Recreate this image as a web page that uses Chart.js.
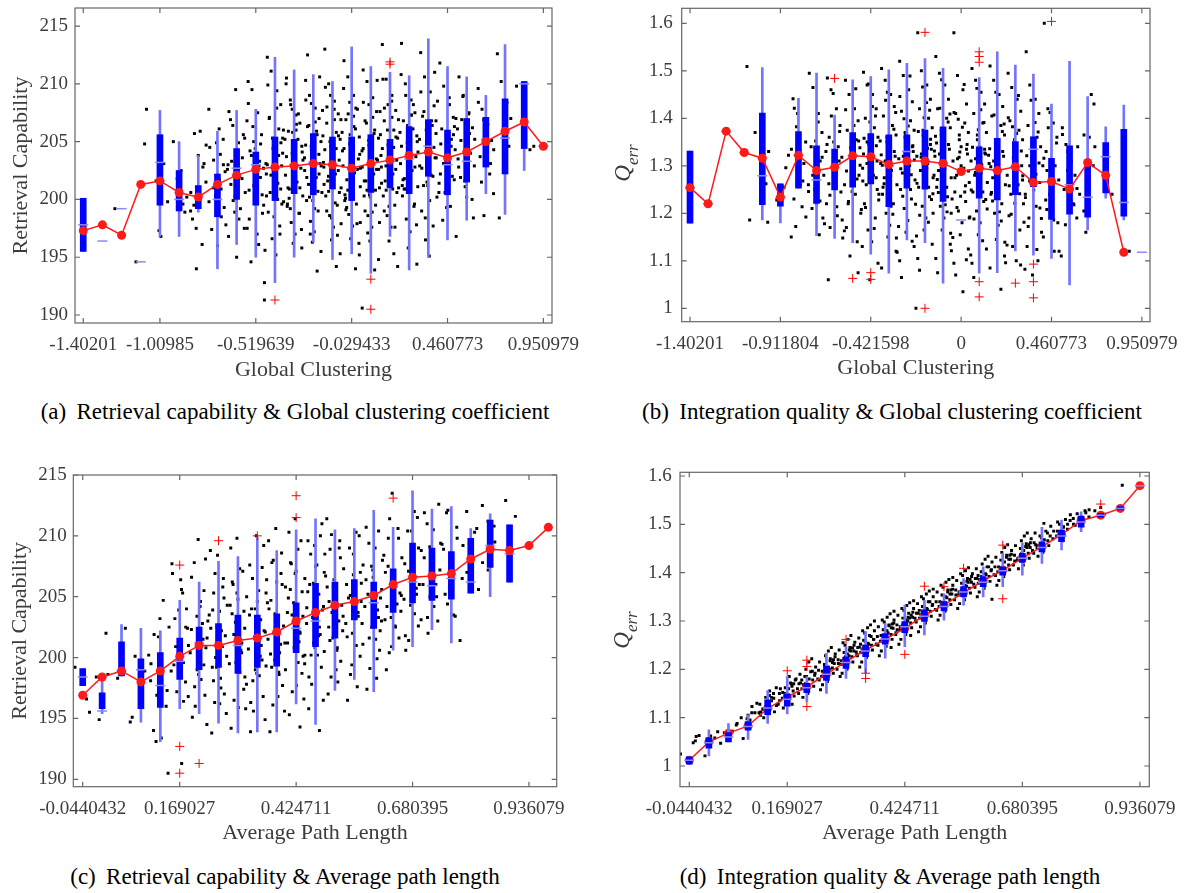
<!DOCTYPE html>
<html><head><meta charset="utf-8">
<script src="https://cdn.jsdelivr.net/npm/chart.js@4.4.1/dist/chart.umd.min.js"></script>
<style>
html,body{margin:0;padding:0;background:#fff;}
#wrap{position:relative;width:1187px;height:893px;overflow:hidden;background:#fff;}
canvas{position:absolute;}
.cap{position:absolute;font-family:"Liberation Serif","Times New Roman",serif;font-size:23px;color:#000;white-space:nowrap;transform:translate(-50%,-50%);}
.cap span{margin-right:0.45em;}
</style></head><body>
<div id="wrap">
<canvas id="ca" width="590" height="390" style="left:0px;top:0px"></canvas>
<canvas id="cb" width="594" height="390" style="left:593px;top:0px"></canvas>
<canvas id="cc" width="590" height="415" style="left:0px;top:440px"></canvas>
<canvas id="cd" width="594" height="415" style="left:593px;top:440px"></canvas>
<div class="cap" style="left:295px;top:412px"><span>(a)</span>Retrieval capability &amp; Global clustering coefficient</div>
<div class="cap" style="left:892px;top:412px"><span>(b)</span>Integration quality &amp; Global clustering coefficient</div>
<div class="cap" style="left:285px;top:877px"><span>(c)</span>Retrieval capability &amp; Average path length</div>
<div class="cap" style="left:890px;top:877px"><span>(d)</span>Integration quality &amp; Average path length</div>
</div>
<script>
// ---------------- Panel (a): Retrieval capability vs Global clustering ----------------
const xTicksA = [0, 4, 9, 14, 19, 24];
const xLabelsA = ['-1.40201', '-1.00985', '-0.519639', '-0.029433', '0.460773', '0.950979'];
const yTicksA = [190, 195, 200, 205, 210, 215];
const yLabelsA = ['190', '195', '200', '205', '210', '215'];
const q3A = [200.1, null, null, null, 205.6, 202.5, 201.2, 202.2, 204.4, 204.1, 205.4, 205.2, 205.7, 205.4, 205.4, 205.6, 205.2, 206.3, 206.9, 206.0, 207.0, 207.1, 208.7, 210.2, null];
const q1A = [195.5, null, null, null, 199.5, 199.0, 199.2, 198.5, 200.0, 199.5, 199.9, 200.5, 200.4, 200.9, 199.9, 200.6, 201.0, 200.5, 202.0, 200.4, 201.5, 202.8, 202.2, 204.4, null];
const hiA = [200.1, null, null, null, 207.7, 205.0, 203.8, 205.9, 207.7, 207.8, 212.3, 211.2, 210.8, 210.2, 213.2, 211.5, 211.0, 210.7, 213.9, 211.5, 210.6, 209.0, 213.4, 210.2, null];
const loA = [195.5, null, null, null, 196.8, 196.8, 198.9, 194.0, 196.1, 195.0, 192.8, 195.0, 196.3, 194.8, 195.3, 193.6, 196.8, 193.9, 195.0, 196.5, 198.2, 200.5, 198.7, 202.5, null];
const medA = [197.8, 196.4, 199.2, 194.6, 203.2, 200.0, 200.3, 200.0, 202.7, 203.0, 202.7, 203.0, 203.2, 203.0, 202.6, 203.0, 203.3, 203.5, 204.6, 203.0, 203.3, 205.2, 205.3, 210.0, 204.6];
const meanA = [197.3, 197.8, 196.9, 201.3, 201.6, 200.6, 200.2, 201.3, 202.1, 202.6, 202.8, 202.9, 203.1, 203.0, 202.7, 203.1, 203.4, 203.8, 204.1, 203.6, 204.1, 205.0, 205.9, 206.7, 204.6];
const outA = [[10,191.3],[15,193.1],[15,190.5],[16,211.9],[16,211.7]];
const dotsA = [[1.65,199.2],[2.75,194.6],[3.3,207.8],[3.2,204.8],
[3.95,197.3],[4.05,196.8],[4.2,203.1],[4.4,199.8],[3.8,201.6],
[4.7,205.0],[5.2,199.6],[5.4,200.2],[4.9,201.8],[5.3,198.9],[5.1,202.5],
[5.6,199.0],[5.8,205.7],[6.1,205.9],[6.3,203.1],[5.7,198.3],[6.2,196.1],[6.4,201.5],[5.9,194.0],[6.0,203.8],
[6.6,204.5],[6.8,203.4],[7.1,201.7],[7.3,205.2],[6.7,197.4],[7.2,198.5],[7.4,202.4],[6.9,200.3],[7.0,196.0],[7.35,199.3],[6.55,207.8],[7.15,203.9],
[7.6,207.6],[7.8,206.4],[8.1,204.9],[8.3,203.6],[7.7,201.3],[8.2,199.2],[8.4,197.5],[7.9,198.9],[8.0,195.0],[8.35,205.6],[7.55,203.0],[8.15,202.0],[7.95,209.5],[8.45,200.6],
[8.6,210.2],[8.8,209.5],[9.1,207.5],[9.3,205.6],[8.7,204.2],[9.2,203.3],[9.4,202.7],[8.9,201.2],[9.0,199.9],[9.35,198.8],[8.55,197.5],[9.15,196.1],[8.75,194.6],[9.45,192.8],[8.65,200.8],[9.25,204.8],[8.85,206.3],[9.05,202.2],
[9.6,212.3],[9.8,211.1],[10.1,209.4],[10.3,208.2],[9.7,207.0],[10.2,206.1],[10.4,205.3],[9.9,204.4],[10.0,203.6],[10.35,202.9],[9.55,202.2],[10.15,201.4],[9.75,200.6],[10.45,199.8],[9.65,198.9],[10.25,197.7],[9.85,196.6],[10.05,195.2],[9.45,191.3],[10.4,204.0],[9.6,203.0],[10.3,200.9],
[10.6,210.5],[10.8,208.6],[11.1,207.3],[11.3,206.6],[10.7,205.9],[11.2,205.2],[11.4,204.6],[10.9,204.0],[11.0,203.3],[11.35,202.7],[10.55,202.1],[11.15,201.5],[10.75,200.9],[11.45,200.3],[10.65,199.6],[11.25,198.8],[10.85,198.0],[11.05,197.0],[10.95,196.2],[11.4,195.8],[10.6,203.7],[11.3,201.0],[10.8,199.2],[11.1,206.0],[10.9,207.8],
[11.6,210.3],[11.8,209.0],[12.1,207.9],[12.3,207.0],[11.7,206.3],[12.2,205.6],[12.4,205.0],[11.9,204.3],[12.0,203.7],[12.35,203.1],[11.55,202.5],[12.15,201.9],[11.75,201.3],[12.45,200.6],[11.65,199.9],[12.25,199.0],[11.85,198.1],[12.05,197.2],[11.95,196.3],[12.4,195.5],[11.6,204.7],[12.3,202.2],[11.8,200.2],[12.1,206.7],[11.9,208.3],[12.2,193.8],[11.7,212.5],[12.0,201.0],
[12.6,213.0],[12.8,210.0],[13.1,208.5],[13.3,207.4],[12.7,206.6],[13.2,205.8],[13.4,205.2],[12.9,204.6],[13.0,204.0],[13.35,203.4],[12.55,202.8],[13.15,202.2],[12.75,201.6],[13.45,201.0],[12.65,200.3],[13.25,199.5],[12.85,198.6],[13.05,197.6],[12.95,196.5],[13.4,195.3],[12.6,204.3],[13.3,202.5],[12.8,200.7],[13.1,206.9],[12.9,209.0],[13.2,194.2],[12.7,199.0],[13.0,203.0],[12.5,205.5],[13.45,197.9],
[13.6,212.0],[13.8,210.6],[14.1,209.0],[14.3,207.8],[13.7,206.9],[14.2,206.1],[14.4,205.4],[13.9,204.8],[14.0,204.1],[14.35,203.5],[13.55,202.9],[14.15,202.3],[13.75,201.7],[14.45,201.1],[13.65,200.4],[14.25,199.6],[13.85,198.7],[14.05,197.7],[13.95,196.6],[14.4,195.2],[13.6,204.4],[14.3,202.6],[13.8,200.8],[14.1,207.2],[13.9,208.4],[14.2,194.0],[13.7,199.1],[14.0,203.0],[13.5,205.8],[14.45,198.0],
[14.6,211.2],[14.8,210.2],[15.1,208.8],[15.3,207.6],[14.7,206.8],[15.2,206.0],[15.4,205.3],[14.9,204.7],[15.0,204.0],[15.35,203.4],[14.55,202.8],[15.15,202.2],[14.75,201.6],[15.45,201.0],[14.65,200.3],[15.25,199.5],[14.85,198.6],[15.05,197.6],[14.95,196.4],[15.4,194.8],[14.6,204.4],[15.3,202.6],[14.8,200.8],[15.1,207.1],[14.9,208.2],[15.2,193.9],[14.7,199.0],[14.55,190.6],[15.5,205.6],[15.45,198.0],
[15.6,213.4],[15.8,210.4],[16.1,209.0],[16.3,207.7],[15.7,206.8],[16.2,206.0],[16.4,205.3],[15.9,204.7],[16.0,204.0],[16.35,203.4],[15.55,202.8],[16.15,202.2],[15.75,201.6],[16.45,201.0],[15.65,200.3],[16.25,199.5],[15.85,198.6],[16.05,197.6],[15.95,196.4],[16.4,194.2],[15.6,204.4],[16.3,202.6],[15.8,200.8],[16.1,207.1],[15.9,208.2],[16.2,195.3],[15.7,199.0],[16.0,203.0],
[16.6,213.5],[16.8,210.0],[17.1,208.6],[17.3,207.5],[16.7,206.8],[17.2,206.1],[17.4,205.5],[16.9,204.9],[17.0,204.3],[17.35,203.7],[16.55,203.1],[17.15,202.5],[16.75,201.8],[17.45,201.1],[16.65,200.3],[17.25,199.4],[16.85,198.3],[17.05,197.2],[16.95,195.8],[17.4,194.4],[16.6,204.6],[17.3,202.8],[16.8,200.9],[17.1,207.3],
[17.6,212.7],[17.8,210.6],[18.1,209.3],[18.3,208.1],[17.7,207.2],[18.2,206.4],[18.4,205.7],[17.9,205.0],[18.0,204.3],[18.35,203.6],[17.55,202.9],[18.15,202.1],[17.75,201.2],[18.45,200.2],[17.65,199.0],[18.25,197.7],[17.85,196.5],[18.05,195.1],[17.95,203.3],[18.4,206.8],
[18.6,211.8],[18.8,209.8],[19.1,208.2],[19.3,207.1],[18.7,206.1],[19.2,205.2],[19.4,204.3],[18.9,203.5],[19.0,202.6],[19.35,201.7],[18.55,200.6],[19.15,199.4],[18.75,198.2],[19.45,196.8],[18.65,204.8],[19.25,202.0],
[19.6,210.6],[19.8,208.9],[20.1,207.4],[20.3,206.2],[19.7,205.1],[20.2,204.0],[20.4,202.9],[19.9,201.6],[20.0,200.2],[20.35,198.4],[19.55,203.5],[20.15,205.7],
[20.6,209.6],[20.8,207.8],[21.1,206.5],[21.3,205.1],[20.7,203.7],[21.2,202.2],[21.4,200.5],[20.9,198.6],
[21.6,212.6],[21.8,210.2],[22.1,208.4],[22.3,207.0],[21.7,198.4],[22.2,204.6],
[22.6,209.8],[23.3,204.3],[23.5,204.6],[24.0,204.8]];
const dotsAmore = [[5.89,197.5],[6.24,202.8],[5.61,200.6],[6.41,204.7],[5.77,199.5],
[7.31,203.0],[6.56,199.8],[7.09,206.1],[6.79,201.0],[7.44,197.8],[6.95,204.9],[7.19,200.9],
[7.52,202.6],[7.68,206.9],[7.82,199.9],[7.98,204.0],[8.12,198.3],[8.28,201.8],[8.42,205.3],[7.58,196.8],[7.74,203.3],[7.92,200.3],
[8.89,205.0],[9.24,201.9],[8.61,208.3],[9.41,199.5],[8.77,203.8],[9.07,197.0],[8.54,206.8],[9.33,200.4],[8.97,204.4],[9.17,202.9],[8.66,198.3],[9.48,195.6],
[10.31,204.9],[9.56,200.3],[10.09,207.9],[9.79,202.1],[10.44,206.0],[9.95,198.5],[10.19,203.8],[9.63,209.9],[10.36,199.6],[9.87,205.3],[10.02,201.6],[9.71,207.1],[10.26,197.0],[9.53,203.1],[10.14,200.0],
[10.52,205.2],[10.68,201.0],[10.82,208.2],[10.98,202.4],[11.12,206.5],[11.28,198.8],[11.42,204.1],[10.58,210.0],[10.74,200.1],[10.92,205.8],[11.06,201.3],[11.22,207.4],[11.38,197.4],[11.46,203.4],[10.64,199.4],
[11.89,204.6],[12.24,200.7],[11.61,208.6],[12.41,202.9],[11.77,206.4],[12.07,199.2],[11.54,203.6],[12.33,210.6],[11.97,199.9],[12.17,205.9],[11.66,201.9],[12.48,207.7],[11.84,197.0],[12.29,203.9],[11.93,200.5],
[13.31,205.5],[12.56,201.3],[13.09,207.8],[12.79,202.0],[13.44,206.9],[12.95,198.4],[13.19,204.4],[12.63,209.7],[13.36,200.6],[12.87,205.0],[13.02,201.8],[12.71,208.0],[13.26,196.9],[12.53,203.2],[13.14,199.7],
[13.52,204.2],[13.68,200.1],[13.82,207.4],[13.98,201.8],[14.12,206.3],[14.28,197.9],[14.42,203.9],[13.58,209.6],[13.74,199.3],[13.92,205.6],[14.06,201.1],[14.22,207.9],[14.38,196.2],[14.46,202.7],[13.64,199.9],
[14.89,205.1],[15.24,200.8],[14.61,208.4],[15.41,202.6],[14.77,206.6],[15.07,198.9],[14.54,204.2],[15.33,210.3],[14.97,200.2],[15.17,205.7],[14.66,201.6],[15.48,207.6],[14.84,197.1],[15.29,203.5],[14.93,200.4],
[16.31,205.4],[15.56,201.4],[16.09,208.5],[15.79,202.9],[16.44,206.9],[15.95,199.4],[16.19,204.5],[15.63,210.4],[16.36,200.6],[15.87,206.0],[16.02,202.0],[15.71,207.9],[16.26,197.6],[15.53,203.8],[16.14,200.9],
[16.52,205.8],[16.68,201.7],[16.82,209.0],[16.98,203.4],[17.12,207.3],[17.28,199.6],[17.42,205.0],[16.58,210.8],[16.74,200.9],[16.92,206.4],[17.06,202.4],[17.22,208.2],[17.38,197.8],[17.46,204.1],[16.64,201.2],
[17.89,206.0],[18.24,202.0],[17.61,209.3],[18.41,203.6],[17.77,207.6],[18.07,199.9],[17.54,205.2],[18.33,211.0],[17.97,201.2],[18.17,206.8],[17.66,202.7],[18.48,208.5],[17.84,198.4],[18.29,204.5],[17.93,201.5],
[19.31,205.6],[18.56,201.4],[19.09,208.8],[18.79,203.1],[19.44,207.0],[18.95,199.3],[19.19,204.6],[18.63,202.2],[19.36,206.3],[18.87,200.6],
[19.52,206.1],[19.68,201.9],[19.82,209.0],[19.98,203.6],[20.12,207.5],[20.28,200.0],[20.42,205.2],[19.58,202.8],[19.74,206.9],[19.92,201.1],
[20.89,206.9],[21.24,203.1],[20.61,208.4],[21.41,204.3],[20.77,201.5]];

// ---------------- Panel (b): Integration quality vs Global clustering ----------------
const xTicksB = [0, 5, 10, 15, 20, 25];
const xLabelsB = ['-1.40201', '-0.911804', '-0.421598', '0', '0.460773', '0.950979'];
const yTicksB = [1, 1.1, 1.2, 1.3, 1.4, 1.5, 1.6];
const yLabelsB = ['1', '1.1', '1.2', '1.3', '1.4', '1.5', '1.6'];
const q3B = [1.331, null, null, null, 1.411, 1.262, 1.372, 1.342, 1.335, 1.370, 1.368, 1.365, 1.365, 1.375, 1.382, null, 1.340, 1.358, 1.351, 1.361, 1.316, 1.342, 1.307, 1.349, 1.377, null];
const q1B = [1.179, null, null, null, 1.218, 1.215, 1.253, 1.221, 1.249, 1.255, 1.262, 1.214, 1.253, 1.251, 1.225, null, 1.232, 1.228, 1.239, 1.256, 1.187, 1.198, 1.192, 1.243, 1.194, null];
const hiB = [1.331, null, null, null, 1.507, 1.262, 1.442, 1.495, 1.407, 1.481, 1.488, 1.502, 1.516, 1.526, 1.505, null, 1.486, 1.540, 1.512, 1.493, 1.430, 1.520, 1.446, 1.382, 1.428, null];
const loB = [1.179, null, null, null, 1.186, 1.180, 1.253, 1.153, 1.147, 1.138, 1.114, 1.074, 1.144, 1.138, 1.053, null, 1.074, 1.075, 1.121, 1.112, 1.105, 1.049, 1.165, 1.232, 1.186, null];
const medB = [1.254, 1.220, 1.372, 1.328, 1.279, 1.234, 1.322, 1.270, 1.297, 1.320, 1.319, 1.300, 1.330, 1.310, 1.305, 1.186, 1.295, 1.290, 1.298, 1.335, 1.267, 1.260, 1.234, 1.319, 1.223, 1.118];
const meanB = [1.254, 1.220, 1.373, 1.328, 1.316, 1.234, 1.322, 1.290, 1.297, 1.321, 1.319, 1.303, 1.310, 1.310, 1.305, 1.288, 1.295, 1.290, 1.298, 1.265, 1.267, 1.251, 1.307, 1.280, 1.118, null];
const outB = [[8,1.484],[9,1.063],[10,1.075],[10,1.061],[13,1.581],[13,1.0],[16,1.056],[16,1.024],[16,1.540],[16,1.530],[16,1.518],[18,1.053],[19,1.093],[19,1.056],[19,1.022],[20,1.604]];
const dotsB = [[3.15,1.509],[3.3,1.186],[3.6,1.37],[4.2,1.262],[4.3,1.181],[3.9,1.38],[4.35,1.33],
[4.8,1.228],[5.2,1.255],[5.45,1.322],[4.9,1.248],[5.3,1.296],
[5.7,1.441],[5.95,1.41],[6.2,1.214],[5.6,1.15],[6.3,1.305],[5.85,1.172],[6.1,1.26],[6.4,1.35],[5.75,1.23],[6.05,1.285],
[6.6,1.495],[6.8,1.465],[7.1,1.41],[7.3,1.37],[6.7,1.34],[7.2,1.31],[7.4,1.28],[6.9,1.25],[7.0,1.22],[7.35,1.19],[6.55,1.26],[7.15,1.155],[6.75,1.21],
[7.6,1.485],[7.8,1.46],[8.1,1.42],[8.3,1.385],[7.7,1.36],[8.2,1.34],[8.4,1.318],[7.9,1.295],[8.0,1.27],[8.35,1.245],[7.55,1.22],[8.15,1.195],[7.75,1.17],[8.45,1.148],[7.65,1.06],[8.25,1.31],[7.95,1.35],
[8.6,1.48],[8.8,1.45],[9.1,1.42],[9.3,1.395],[8.7,1.375],[9.2,1.355],[9.4,1.338],[8.9,1.32],[9.0,1.3],[9.35,1.28],[8.55,1.26],[9.15,1.24],[8.75,1.22],[9.45,1.2],[8.65,1.17],[9.25,1.14],[8.85,1.11],[9.05,1.35],[8.95,1.27],[9.3,1.075],
[9.6,1.497],[9.8,1.47],[10.1,1.45],[10.3,1.42],[9.7,1.4],[10.2,1.38],[10.4,1.36],[9.9,1.345],[10.0,1.33],[10.35,1.31],[9.55,1.295],[10.15,1.28],[9.75,1.26],[10.45,1.24],[9.65,1.22],[10.25,1.19],[9.85,1.165],[10.05,1.14],[9.95,1.06],[10.4,1.095],[9.6,1.325],[10.3,1.275],[9.8,1.35],
[10.6,1.505],[10.8,1.48],[11.1,1.45],[11.3,1.425],[10.7,1.405],[11.2,1.385],[11.4,1.365],[10.9,1.35],[11.0,1.335],[11.35,1.32],[10.55,1.305],[11.15,1.29],[10.75,1.275],[11.45,1.26],[10.65,1.24],[11.25,1.22],[10.85,1.2],[11.05,1.175],[10.95,1.15],[11.4,1.12],[10.6,1.085],[11.3,1.33],[10.8,1.31],[11.1,1.28],[10.9,1.36],
[11.6,1.52],[11.8,1.49],[12.1,1.46],[12.3,1.435],[11.7,1.415],[12.2,1.395],[12.4,1.375],[11.9,1.36],[12.0,1.345],[12.35,1.33],[11.55,1.315],[12.15,1.3],[11.75,1.285],[12.45,1.27],[11.65,1.25],[12.25,1.23],[11.85,1.21],[12.05,1.185],[11.95,1.16],[12.4,1.13],[11.6,1.1],[12.3,1.34],[11.8,1.32],[12.1,1.29],[11.9,1.37],[12.2,1.25],[11.7,1.065],[12.0,1.305],
[12.6,1.58],[12.8,1.5],[13.1,1.47],[13.3,1.44],[12.7,1.42],[13.2,1.4],[13.4,1.38],[12.9,1.365],[13.0,1.35],[13.35,1.335],[12.55,1.32],[13.15,1.305],[12.75,1.29],[13.45,1.275],[12.65,1.255],[13.25,1.235],[12.85,1.215],[13.05,1.19],[12.95,1.165],[13.4,1.135],[12.6,1.105],[13.3,1.345],[12.8,1.325],[13.1,1.295],[12.9,1.375],[13.2,1.255],[12.7,1.08],[13.0,1.31],[12.5,1.0],[13.45,1.2],
[13.6,1.53],[13.8,1.495],[14.1,1.47],[14.3,1.44],[13.7,1.42],[14.2,1.4],[14.4,1.38],[13.9,1.365],[14.0,1.35],[14.35,1.335],[13.55,1.32],[14.15,1.305],[13.75,1.29],[14.45,1.275],[13.65,1.255],[14.25,1.235],[13.85,1.215],[14.05,1.19],[13.95,1.165],[14.4,1.135],[13.6,1.105],[14.3,1.345],[13.8,1.325],[14.1,1.295],[13.9,1.375],[14.2,1.255],[13.7,1.075],[14.0,1.31],[13.5,1.28],[14.45,1.2],
[14.6,1.58],[14.8,1.49],[15.1,1.46],[15.3,1.43],[14.7,1.41],[15.2,1.39],[15.4,1.37],[14.9,1.355],[15.0,1.34],[15.35,1.325],[14.55,1.31],[15.15,1.295],[14.75,1.28],[15.45,1.265],[14.65,1.245],[15.25,1.225],[14.85,1.205],[15.05,1.18],[14.95,1.155],[15.4,1.125],[14.6,1.095],[15.3,1.335],[14.8,1.315],[15.1,1.285],[14.9,1.365],[15.2,1.245],[14.7,1.07],[15.0,1.3],[14.5,1.23],[15.45,1.19],[15.1,1.035],
[15.6,1.505],[15.8,1.48],[16.1,1.455],[16.3,1.43],[15.7,1.41],[16.2,1.39],[16.4,1.37],[15.9,1.355],[16.0,1.34],[16.35,1.325],[15.55,1.31],[16.15,1.295],[15.75,1.28],[16.45,1.265],[15.65,1.245],[16.25,1.225],[15.85,1.205],[16.05,1.18],[15.95,1.155],[16.4,1.125],[15.6,1.095],[16.3,1.335],[15.8,1.315],[16.1,1.285],[15.9,1.365],[16.2,1.245],[15.7,1.065],
[16.6,1.51],[16.8,1.48],[17.1,1.45],[17.3,1.425],[16.7,1.405],[17.2,1.385],[17.4,1.365],[16.9,1.35],[17.0,1.335],[17.35,1.32],[16.55,1.305],[17.15,1.29],[16.75,1.275],[17.45,1.26],[16.65,1.24],[17.25,1.22],[16.85,1.2],[17.05,1.175],[16.95,1.145],[17.4,1.11],[16.6,1.085],[17.3,1.33],[16.8,1.31],[17.2,1.04],
[17.6,1.495],[17.8,1.465],[18.1,1.44],[18.3,1.415],[17.7,1.395],[18.2,1.375],[18.4,1.355],[17.9,1.34],[18.0,1.32],[18.35,1.3],[17.55,1.28],[18.15,1.26],[17.75,1.24],[18.45,1.22],[17.65,1.195],[18.25,1.165],[17.85,1.13],[18.05,1.1],[17.95,1.355],[18.4,1.27],
[18.6,1.54],[18.8,1.47],[19.1,1.44],[19.3,1.41],[18.7,1.385],[19.2,1.36],[19.4,1.34],[18.9,1.315],[19.0,1.29],[19.35,1.265],[18.55,1.24],[19.15,1.215],[18.75,1.19],[19.45,1.16],[18.65,1.13],[19.25,1.1],[18.95,1.07],[18.8,1.3],
[19.6,1.6],[19.8,1.42],[20.1,1.39],[20.3,1.36],[19.7,1.33],[20.2,1.3],[20.4,1.27],[19.9,1.24],[20.0,1.21],[20.35,1.18],[19.55,1.15],[20.15,1.12],[19.75,1.29],
[20.6,1.38],[20.8,1.345],[21.1,1.31],[21.3,1.28],[20.7,1.25],[21.2,1.22],[21.4,1.19],[20.9,1.33],[21.45,1.34],
[21.8,1.365],[22.2,1.45],[22.35,1.43],[21.9,1.16],[22.4,1.34],[23.35,1.24],[24.3,1.12]];
const dotsBmore = [[5.89,1.382],[6.24,1.268],[5.61,1.335],[6.41,1.192],[5.77,1.421],
[7.31,1.318],[6.56,1.246],[7.09,1.392],[6.79,1.280],[7.44,1.178],[6.95,1.352],[7.19,1.226],
[7.52,1.330],[7.68,1.262],[7.82,1.405],[7.98,1.298],[8.12,1.214],[8.28,1.372],[8.42,1.186],[7.58,1.345],[7.74,1.238],[7.92,1.452],
[8.89,1.338],[9.24,1.272],[8.61,1.418],[9.41,1.301],[8.77,1.225],[9.07,1.385],[8.54,1.163],[9.33,1.352],[8.97,1.246],[9.17,1.462],[8.66,1.289],[9.48,1.208],
[10.31,1.342],[9.56,1.268],[10.09,1.425],[9.79,1.305],[10.44,1.228],[9.95,1.392],[10.19,1.168],[9.63,1.358],[10.36,1.250],[9.87,1.472],[10.02,1.288],[9.71,1.212],[10.26,1.405],[9.53,1.130],[10.14,1.318],
[10.52,1.352],[10.68,1.255],[10.82,1.438],[10.98,1.291],[11.12,1.215],[11.28,1.377],[11.42,1.148],[10.58,1.323],[10.74,1.262],[10.92,1.455],[11.06,1.276],[11.22,1.198],[11.38,1.412],[11.46,1.118],[10.64,1.301],
[11.89,1.327],[12.24,1.281],[11.61,1.446],[12.41,1.312],[11.77,1.236],[12.07,1.384],[11.54,1.172],[12.33,1.342],[11.97,1.258],[12.17,1.489],[11.66,1.294],[12.48,1.219],[11.84,1.399],[12.29,1.141],[11.93,1.366],
[13.31,1.356],[12.56,1.263],[13.09,1.433],[12.79,1.318],[13.44,1.241],[12.95,1.401],[13.19,1.181],[12.63,1.372],[13.36,1.229],[12.87,1.466],[13.02,1.302],[12.71,1.196],[13.26,1.417],[12.53,1.152],[13.14,1.337],
[13.52,1.331],[13.68,1.271],[13.82,1.421],[13.98,1.297],[14.12,1.218],[14.28,1.392],[14.42,1.158],[13.58,1.362],[13.74,1.244],[13.92,1.481],[14.06,1.283],[14.22,1.203],[14.38,1.409],[14.46,1.121],[13.64,1.348],
[14.89,1.318],[15.24,1.258],[14.61,1.412],[15.41,1.289],[14.77,1.212],[15.07,1.381],[14.54,1.149],[15.33,1.345],[14.97,1.236],[15.17,1.471],[14.66,1.275],[15.48,1.192],[14.84,1.398],[15.29,1.102],[14.93,1.329],
[16.31,1.327],[15.56,1.249],[16.09,1.418],[15.79,1.286],[16.44,1.209],[15.95,1.376],[16.19,1.142],[15.63,1.339],[16.36,1.229],[15.87,1.463],[16.02,1.268],[15.71,1.188],[16.26,1.391],[15.53,1.112],[16.14,1.302],
[16.52,1.322],[16.68,1.244],[16.82,1.407],[16.98,1.283],[17.12,1.203],[17.28,1.372],[17.42,1.139],[16.58,1.336],[16.74,1.226],[16.92,1.455],[17.06,1.262],[17.22,1.184],[17.38,1.388],[17.46,1.096],[16.64,1.298],
[17.89,1.317],[18.24,1.241],[17.61,1.401],[18.41,1.279],[17.77,1.198],[18.07,1.368],[17.54,1.133],[18.33,1.331],[17.97,1.221],[18.17,1.448],[17.66,1.258],[18.48,1.181],[17.84,1.382],[18.29,1.091],[17.93,1.291],
[19.31,1.306],[18.56,1.233],[19.09,1.391],[18.79,1.268],[19.44,1.189],[18.95,1.358],[19.19,1.124],[18.63,1.321],[19.36,1.211],[18.87,1.438],[19.02,1.249],[18.71,1.172],[19.26,1.371],[18.53,1.082],[19.14,1.282],
[19.52,1.300],[19.68,1.228],[19.82,1.380],[19.98,1.262],[20.12,1.186],[20.28,1.348],[20.42,1.120],[19.58,1.316],[19.74,1.208],[19.92,1.412],
[20.89,1.290],[21.24,1.218],[20.61,1.366],[21.41,1.252],[20.77,1.176],[21.07,1.336],[20.54,1.110],
[22.31,1.300],[21.56,1.240],[22.09,1.360],[21.79,1.205]];

// ---------------- Panel (c): Retrieval capability vs Average path length ----------------
const xTicksC = [0, 5, 11, 17, 23];
const xLabelsC = ['-0.0440432', '0.169027', '0.424711', '0.680395', '0.936079'];
const yTicksC = [190, 195, 200, 205, 210, 215];
const yLabelsC = ['190', '195', '200', '205', '210', '215'];
const q3C = [199.1, 197.1, 201.3, 199.9, 200.4, 201.6, 202.5, 202.8, 203.5, 203.5, 203.6, 204.5, 206.1, 206.2, 206.4, 206.2, 207.3, 209.4, 209.0, 208.7, 209.8, 211.3, 210.9, null, null];
const q1C = [197.7, 195.8, 198.5, 195.8, 195.9, 198.2, 199.0, 199.2, 198.7, 199.2, 199.3, 200.4, 200.9, 201.6, 203.1, 202.4, 203.7, 204.5, 204.7, 204.8, 205.3, 207.4, 206.2, null, null];
const hiC = [199.1, 198.3, 202.7, 202.4, 202.2, 204.7, 206.2, 207.9, 208.3, 209.9, 208.8, 210.5, 211.4, 210.5, 210.6, 212.1, 210.7, 213.7, 212.2, 212.4, 210.6, 211.8, 210.9, null, null];
const loC = [197.7, 195.4, 198.5, 194.7, 193.1, 195.8, 195.4, 194.6, 193.8, 193.9, 193.9, 196.2, 194.5, 197.3, 198.2, 197.2, 200.6, 200.9, 202.3, 201.2, 205.3, 205.0, 206.2, null, null];
const medC = [198.4, 195.6, 198.9, 199.0, 197.7, 199.7, 201.2, 201.0, 201.0, 201.6, 201.9, 202.4, 203.0, 204.2, 204.5, 204.5, 205.8, 206.2, 205.9, 206.5, 206.2, 209.2, 208.5, null, null];
const meanC = [196.9, 198.4, 198.9, 198.0, 198.9, 200.1, 201.0, 201.0, 201.4, 201.6, 202.1, 203.0, 203.7, 204.3, 204.6, 205.1, 206.0, 206.6, 206.7, 206.9, 208.1, 208.9, 208.8, 209.2, 210.7];
const outC = [[5,207.6],[5,192.7],[5,190.5],[6,191.3],[7,209.6],[9,210.0],[11,213.3],[11,211.5],[16,213.1]];
const dotsC = [[-0.4,199.2],[0.2,196.6],[0.35,195.5],[0.85,194.9],
[1.2,202.0],[0.7,198.4],[1.3,198.6],
[2.2,202.4],[2.45,194.7],[2.55,195.1],[1.8,198.3],[2.7,200.1],
[3.4,200.2],[3.5,198.1],[3.65,194.0],[3.78,193.1],[2.95,196.2],[3.2,198.9],
[4.15,204.7],[4.3,196.0],[4.45,202.5],[3.9,201.7],[4.05,193.4],[4.35,197.3],[4.4,190.5],
[4.6,207.7],[4.75,203.2],[4.9,200.3],[5.05,206.4],[5.15,205.3],[5.3,198.0],[5.4,202.4],[4.85,197.2],[5.2,196.4],[5.45,201.0],[4.7,199.4],[5.1,191.3],[5.35,204.0],
[5.6,202.3],[5.75,207.8],[5.9,199.0],[6.05,204.2],[6.2,201.5],[6.3,196.9],[6.45,203.0],[5.8,196.0],[6.1,198.2],[6.35,200.8],[5.65,195.1],[6.25,205.5],[5.95,209.7],[6.4,194.5],
[6.6,202.4],[6.75,205.3],[6.9,199.2],[7.05,203.8],[7.2,200.9],[7.3,197.0],[7.45,204.3],[6.8,196.3],[7.1,198.3],[7.35,201.8],[6.65,193.8],[7.25,206.5],[6.95,208.4],[7.4,195.4],[6.7,203.9],[7.15,202.2],[6.85,200.0],
[7.6,204.3],[7.75,206.0],[7.9,199.6],[8.05,203.1],[8.2,201.2],[8.3,197.4],[8.45,205.0],[7.8,196.5],[8.1,198.8],[8.35,202.4],[7.65,194.2],[8.25,207.1],[7.95,209.8],[8.4,195.8],[7.7,203.6],[8.15,200.6],[7.85,201.9],[8.0,204.8],
[8.6,203.5],[8.75,206.5],[8.9,199.0],[9.05,203.0],[9.2,201.0],[9.3,196.8],[9.45,205.3],[8.8,195.6],[9.1,198.5],[9.35,202.2],[8.65,193.9],[9.25,207.4],[8.95,210.0],[9.4,194.9],[8.7,204.0],[9.15,200.1],[8.85,201.7],[9.0,204.6],[9.45,199.3],
[9.6,204.0],[9.75,207.8],[9.9,199.8],[10.05,203.4],[10.2,201.1],[10.3,197.7],[10.45,205.8],[9.8,196.1],[10.1,198.8],[10.35,202.6],[9.65,193.9],[10.25,208.6],[9.95,210.6],[10.4,195.6],[9.7,204.7],[10.15,200.4],[9.85,202.0],[10.0,206.2],[10.45,199.0],[9.55,201.5],
[10.6,204.9],[10.75,207.7],[10.9,200.8],[11.05,204.2],[11.2,202.0],[11.3,198.7],[11.45,206.5],[10.8,197.2],[11.1,199.6],[11.35,203.4],[10.65,195.3],[11.25,209.6],[10.95,211.4],[11.4,196.6],[10.7,205.6],[11.15,201.3],[10.85,202.9],[11.0,207.1],[11.45,200.2],[10.55,203.7],[11.2,194.3],
[11.6,205.4],[11.75,208.5],[11.9,201.2],[12.05,204.8],[12.2,202.5],[12.3,199.2],[12.45,207.0],[11.8,197.8],[12.1,200.2],[12.35,203.9],[11.65,195.8],[12.25,210.0],[11.95,209.2],[12.4,196.5],[11.7,206.0],[12.15,201.8],[11.85,203.3],[12.0,207.5],[12.45,200.5],[11.55,204.1],[12.2,194.0],
[12.6,205.8],[12.75,208.9],[12.9,201.6],[13.05,205.2],[13.2,203.0],[13.3,199.7],[13.45,207.3],[12.8,198.4],[13.1,200.6],[13.35,204.3],[12.65,197.0],[13.25,209.6],[12.95,206.4],[13.4,202.2],[12.7,204.6],[13.15,198.0],[12.85,203.7],
[13.6,206.0],[13.75,209.0],[13.9,202.0],[14.05,205.5],[14.2,203.4],[14.3,200.1],[14.45,207.6],[13.8,198.6],[14.1,201.0],[14.35,204.6],[13.65,196.5],[14.25,210.0],[13.95,206.8],[14.4,202.8],[13.7,204.9],[14.15,197.6],
[14.6,206.4],[14.75,209.4],[14.9,202.5],[15.05,205.8],[15.2,203.9],[15.3,200.6],[15.45,208.0],[14.8,199.1],[15.1,201.5],[15.35,204.9],[14.65,197.4],[15.25,210.4],[14.95,207.2],[15.4,203.0],[14.7,205.2],[15.15,198.3],
[15.6,207.0],[15.75,209.8],[15.9,203.3],[16.05,206.2],[16.2,204.4],[16.3,201.6],[16.45,208.2],[15.8,200.4],[16.1,202.6],[16.35,205.3],[15.65,199.0],[16.25,210.6],[15.95,213.5],[16.4,203.8],
[16.6,207.7],[16.75,210.4],[16.9,204.3],[17.05,206.8],[17.2,205.2],[17.3,202.6],[17.45,208.8],[16.8,201.4],[17.1,203.6],[17.35,206.0],[16.65,200.6],[17.25,211.5],
[17.6,208.2],[17.75,211.0],[17.9,205.0],[18.05,207.6],[18.2,206.0],[18.3,203.0],[18.45,209.4],[17.8,202.0],[18.1,204.2],[18.35,212.6],
[18.6,208.9],[18.75,211.9],[18.9,205.8],[19.05,207.8],[19.2,203.4],[19.3,209.8],[19.45,201.4],[18.8,204.4],
[19.6,209.2],[19.8,207.0],[20.2,210.3],[20.4,205.6],[20.6,212.5],[21.2,210.8],[20.9,207.2],[21.8,212.9],[22.3,211.6]];
const dotsCmore = [[3.52,199.5],[3.68,201.9],[3.82,196.9],[3.98,203.2],
[5.31,202.5],[4.56,198.9],[5.09,205.6],[4.79,200.9],[5.44,196.8],[4.95,203.9],[5.19,199.6],[4.63,206.9],
[5.89,203.4],[6.24,199.4],[5.61,206.6],[6.41,201.6],[5.77,197.6],[6.07,204.6],[5.54,200.4],[6.33,208.1],[5.97,198.6],[6.17,202.8],
[6.52,203.5],[6.68,199.2],[6.82,206.9],[6.98,201.4],[7.12,197.5],[7.28,204.9],[7.42,200.1],[6.58,208.8],[6.74,198.1],[6.92,202.6],[7.06,196.2],[7.22,205.8],
[8.31,203.8],[7.56,199.5],[8.09,207.3],[7.79,201.9],[8.44,197.8],[7.95,205.3],[8.19,200.4],[7.63,209.0],[8.36,198.4],[7.87,202.9],[8.02,195.9],[7.71,206.2],
[8.89,204.0],[9.24,199.8],[8.61,207.6],[9.41,202.1],[8.77,198.1],[9.07,205.5],[8.54,200.7],[9.33,209.2],[8.97,198.7],[9.17,203.1],[8.66,196.3],[9.48,206.4],
[9.52,204.5],[9.68,200.3],[9.82,208.0],[9.98,202.6],[10.12,198.6],[10.28,206.0],[10.42,201.2],[9.58,209.6],[9.74,199.2],[9.92,203.6],[10.06,196.8],[10.22,206.9],
[11.31,205.4],[10.56,201.2],[11.09,208.9],[10.79,203.5],[11.44,199.5],[10.95,206.9],[11.19,202.1],[10.63,210.3],[11.36,200.1],[10.87,204.5],[11.02,197.7],[10.71,207.8],
[11.89,206.1],[12.24,201.9],[11.61,209.6],[12.41,204.2],[11.77,200.2],[12.07,207.6],[11.54,202.8],[12.33,211.0],[11.97,200.8],[12.17,205.2],[11.66,198.4],[12.48,208.5],
[12.52,206.7],[12.68,202.5],[12.82,210.1],[12.98,204.8],[13.12,200.8],[13.28,208.2],[13.42,203.4],[12.58,211.4],[12.74,201.4],[12.92,205.8],[13.06,199.0],[13.22,209.0],
[14.31,207.0],[13.56,202.8],[14.09,210.3],[13.79,205.1],[14.44,201.1],[13.95,208.5],[14.19,203.7],[13.63,201.7],[14.36,206.1],[13.87,199.4],
[14.89,207.5],[15.24,203.3],[14.61,210.7],[15.41,205.6],[14.77,201.6],[15.07,209.0],[14.54,204.2],[15.33,202.2],[14.97,206.6],[15.17,199.9],
[15.52,208.4],[15.68,204.2],[15.82,211.4],[15.98,206.5],[16.12,202.5],[16.28,209.8],[16.42,205.1],[15.58,203.1],[15.74,207.5],[15.92,200.9],
[17.31,209.0],[16.56,204.8],[17.09,212.0],[16.79,207.1],[17.44,203.1],[16.95,210.4],[17.19,205.7],[16.63,201.8],
[17.89,209.1],[18.24,205.0],[17.61,211.9],[18.41,207.2],[17.77,203.3],[18.07,210.5],[17.54,206.0],
[18.52,209.3],[18.68,205.2],[18.82,212.1],[18.98,207.4],[19.12,203.5],[19.28,210.7],
[20.31,210.6],[19.56,206.5],[20.09,208.4],[19.79,212.0],
[20.89,211.2],[21.24,209.5],[20.61,207.8]];

// ---------------- Panel (d): Integration quality vs Average path length ----------------
const xTicksD = [0, 5, 11, 17, 23];
const xLabelsD = ['-0.0440432', '0.169027', '0.424711', '0.680395', '0.936079'];
const yTicksD = [1, 1.1, 1.2, 1.3, 1.4, 1.5, 1.6];
const yLabelsD = ['1', '1.1', '1.2', '1.3', '1.4', '1.5', '1.6'];
const q3D = [1.019, 1.059, 1.069, 1.092, 1.137, 1.149, 1.171, 1.206, 1.226, 1.250, 1.274, 1.299, 1.323, 1.340, 1.371, 1.392, 1.412, 1.440, 1.464, 1.488, 1.517, 1.523, 1.537, null];
const q1D = [1.004, 1.037, 1.050, 1.074, 1.106, 1.124, 1.152, 1.177, 1.202, 1.226, 1.252, 1.276, 1.299, 1.321, 1.350, 1.371, 1.395, 1.421, 1.443, 1.464, 1.494, 1.515, 1.530, null];
const hiD = [1.019, 1.075, 1.088, 1.106, 1.156, 1.185, 1.185, 1.233, 1.247, 1.278, 1.295, 1.333, 1.343, 1.356, 1.388, 1.412, 1.440, 1.462, 1.494, 1.509, 1.526, 1.523, 1.537, null];
const loD = [1.004, 1.021, 1.050, 1.055, 1.088, 1.108, 1.133, 1.150, 1.181, 1.192, 1.223, 1.247, 1.271, 1.302, 1.333, 1.350, 1.371, 1.395, 1.419, 1.447, 1.485, 1.515, 1.530, null];
const medD = [1.012, 1.048, 1.060, 1.082, 1.120, 1.138, 1.162, 1.190, 1.214, 1.238, 1.263, 1.288, 1.310, 1.330, 1.360, 1.380, 1.404, 1.430, 1.452, 1.476, 1.505, 1.519, 1.533, 1.580];
const meanD = [1.012, 1.050, 1.068, 1.083, 1.119, 1.143, 1.164, 1.190, 1.216, 1.240, 1.262, 1.285, 1.312, 1.333, 1.359, 1.383, 1.405, 1.430, 1.454, 1.479, 1.508, 1.519, 1.533, 1.580];
const outD = [[5,1.197],[6,1.219],[6,1.206],[6,1.123],[8,1.262],[9,1.192],[9,1.181],[11,1.231],[12,1.372],[13,1.371],[14,1.409],[16,1.457],[16,1.346],[21,1.542]];
const dotsD = [[-0.45,1.025],[0.35,1.061],[0.5,1.063],[0.8,1.021],[0.2,1.048],
[1.45,1.071],[1.6,1.047],[1.3,1.058],[0.9,1.052],
[2.65,1.100],[2.75,1.057],[2.2,1.072],[2.4,1.085],[1.9,1.066],
[3.2,1.123],[3.35,1.110],[2.9,1.082],[3.1,1.095],[3.45,1.130],[3.0,1.105],
[3.6,1.128],[3.75,1.118],[3.9,1.142],[4.05,1.108],[4.2,1.135],[4.3,1.150],[4.45,1.125],[3.8,1.100],[4.1,1.155],[4.35,1.112],[3.65,1.112],
[4.6,1.150],[4.75,1.140],[4.9,1.162],[5.05,1.132],[5.2,1.170],[5.3,1.155],[5.45,1.180],[4.8,1.120],[5.1,1.185],[5.35,1.145],[4.65,1.160],[5.25,1.128],
[5.6,1.170],[5.75,1.160],[5.9,1.185],[6.05,1.150],[6.2,1.195],[6.3,1.178],[6.45,1.205],[5.8,1.142],[6.1,1.215],[6.35,1.165],[5.65,1.190],[6.25,1.222],[5.95,1.200],[6.4,1.188],
[6.6,1.198],[6.75,1.185],[6.9,1.210],[7.05,1.175],[7.2,1.222],[7.3,1.203],[7.45,1.232],[6.8,1.168],[7.1,1.238],[7.35,1.192],[6.65,1.215],[7.25,1.245],[6.95,1.228],[7.4,1.212],[6.7,1.158],[7.15,1.200],
[7.6,1.220],[7.75,1.210],[7.9,1.235],[8.05,1.200],[8.2,1.245],[8.3,1.226],[8.45,1.256],[7.8,1.192],[8.1,1.262],[8.35,1.215],[7.65,1.240],[8.25,1.270],[7.95,1.250],[8.4,1.238],[7.7,1.185],[8.15,1.228],[7.85,1.255],[8.0,1.218],
[8.6,1.245],[8.75,1.235],[8.9,1.260],[9.05,1.225],[9.2,1.270],[9.3,1.250],[9.45,1.280],[8.8,1.215],[9.1,1.286],[9.35,1.240],[8.65,1.265],[9.25,1.292],[8.95,1.275],[9.4,1.262],[8.7,1.205],[9.15,1.252],[8.85,1.280],[9.0,1.242],[9.45,1.300],[8.55,1.230],
[9.6,1.268],[9.75,1.258],[9.9,1.282],[10.05,1.248],[10.2,1.292],[10.3,1.272],[10.45,1.302],[9.8,1.238],[10.1,1.308],[10.35,1.262],[9.65,1.288],[10.25,1.315],[9.95,1.298],[10.4,1.285],[9.7,1.228],[10.15,1.275],[9.85,1.302],[10.0,1.265],[10.45,1.320],[9.55,1.252],[10.3,1.245],
[10.6,1.292],[10.75,1.282],[10.9,1.306],[11.05,1.272],[11.2,1.316],[11.3,1.296],[11.45,1.326],[10.8,1.262],[11.1,1.332],[11.35,1.286],[10.65,1.312],[11.25,1.338],[10.95,1.322],[11.4,1.308],[10.7,1.252],[11.15,1.300],[10.85,1.326],[11.0,1.290],[11.45,1.342],[10.55,1.276],[11.3,1.270],
[11.6,1.316],[11.75,1.306],[11.9,1.330],[12.05,1.296],[12.2,1.340],[12.3,1.320],[12.45,1.350],[11.8,1.288],[12.1,1.356],[12.35,1.310],[11.65,1.336],[12.25,1.362],[11.95,1.346],[12.4,1.332],[11.7,1.278],[12.15,1.324],[11.85,1.350],[12.0,1.314],[12.45,1.366],[11.55,1.300],
[12.6,1.340],[12.75,1.330],[12.9,1.354],[13.05,1.320],[13.2,1.364],[13.3,1.344],[13.45,1.374],[12.8,1.312],[13.1,1.380],[13.35,1.334],[12.65,1.360],[13.25,1.386],[12.95,1.370],[13.4,1.356],[12.7,1.302],[13.15,1.348],[12.85,1.374],[13.0,1.338],[13.45,1.390],
[13.6,1.364],[13.75,1.354],[13.9,1.378],[14.05,1.344],[14.2,1.388],[14.3,1.368],[14.45,1.398],[13.8,1.336],[14.1,1.404],[14.35,1.358],[13.65,1.384],[14.25,1.410],[13.95,1.394],[14.4,1.380],[13.7,1.326],[14.15,1.372],[13.85,1.398],[14.0,1.362],
[14.6,1.388],[14.75,1.378],[14.9,1.402],[15.05,1.368],[15.2,1.412],[15.3,1.392],[15.45,1.422],[14.8,1.360],[15.1,1.428],[15.35,1.382],[14.65,1.408],[15.25,1.434],[14.95,1.418],[15.4,1.404],[14.7,1.350],[15.15,1.396],
[15.6,1.412],[15.75,1.402],[15.9,1.426],[16.05,1.392],[16.2,1.436],[16.3,1.416],[16.45,1.446],[15.8,1.384],[16.1,1.452],[16.35,1.406],[15.65,1.432],[16.25,1.458],[15.95,1.442],[16.4,1.428],[15.7,1.374],[15.45,1.345],
[16.6,1.436],[16.75,1.426],[16.9,1.450],[17.05,1.416],[17.2,1.460],[17.3,1.440],[17.45,1.470],[16.8,1.408],[17.1,1.476],[17.35,1.430],[16.65,1.456],[17.25,1.482],[16.95,1.466],[17.4,1.452],
[17.6,1.462],[17.75,1.452],[17.9,1.476],[18.05,1.442],[18.2,1.486],[18.3,1.466],[18.45,1.496],[17.8,1.434],[18.1,1.502],[18.35,1.456],[17.65,1.482],
[18.6,1.486],[18.75,1.476],[18.9,1.500],[19.05,1.466],[19.2,1.510],[19.3,1.490],[19.45,1.520],[18.8,1.505],[19.1,1.495],
[19.6,1.512],[19.8,1.522],[20.0,1.505],[20.2,1.528],[20.4,1.515],[19.7,1.498],
[20.7,1.528],[21.2,1.521],[21.0,1.535],[22.0,1.534],[22.1,1.581]];
const dotsDmore = [[0.31,1.052],[1.09,1.062],[1.79,1.069],[2.44,1.088],[3.19,1.110],[2.95,1.098],
[4.31,1.140],[3.56,1.110],[4.09,1.146],[3.79,1.118],[4.44,1.162],[3.95,1.127],[4.19,1.142],[3.63,1.105],
[4.89,1.150],[5.24,1.165],[4.61,1.135],[5.41,1.178],[4.77,1.152],[5.07,1.160],[4.54,1.128],[5.33,1.170],[4.97,1.141],[5.17,1.172],
[5.52,1.160],[5.68,1.172],[5.82,1.168],[5.98,1.185],[6.12,1.180],[6.28,1.196],[6.42,1.192],[5.58,1.150],[5.74,1.178],[5.92,1.170],
[7.31,1.214],[6.56,1.180],[7.09,1.205],[6.79,1.196],[7.44,1.226],[6.95,1.192],[7.19,1.218],[6.63,1.178],[7.36,1.220],[6.87,1.188],
[7.89,1.222],[8.24,1.238],[7.61,1.212],[8.41,1.250],[7.77,1.218],[8.07,1.232],[7.54,1.200],[8.33,1.244],[7.97,1.226],[8.17,1.240],
[8.52,1.236],[8.68,1.246],[8.82,1.242],[8.98,1.258],[9.12,1.254],[9.28,1.268],[9.42,1.262],[8.58,1.228],[8.74,1.252],[8.92,1.248],
[10.31,1.286],[9.56,1.252],[10.09,1.280],[9.79,1.270],[10.44,1.296],[9.95,1.266],[10.19,1.290],[9.63,1.250],[10.36,1.294],[9.87,1.262],
[10.89,1.292],[11.24,1.306],[10.61,1.282],[11.41,1.318],[10.77,1.288],[11.07,1.302],[10.54,1.272],[11.33,1.312],[10.97,1.296],[11.17,1.308],
[11.52,1.306],[11.68,1.316],[11.82,1.314],[11.98,1.330],[12.12,1.326],[12.28,1.340],[12.42,1.334],[11.58,1.298],[11.74,1.322],[11.92,1.320],
[13.31,1.356],[12.56,1.324],[13.09,1.350],[12.79,1.340],[13.44,1.366],[12.95,1.338],[13.19,1.360],[12.63,1.322],[13.36,1.364],[12.87,1.334],
[13.89,1.364],[14.24,1.380],[13.61,1.354],[14.41,1.392],[13.77,1.360],[14.07,1.374],[13.54,1.344],[14.33,1.386],[13.97,1.368],[14.17,1.382],
[14.52,1.376],[14.68,1.388],[14.82,1.386],[14.98,1.402],[15.12,1.398],[15.28,1.412],[15.42,1.406],[14.58,1.370],[14.74,1.394],[14.92,1.392],
[16.31,1.428],[15.56,1.396],[16.09,1.422],[15.79,1.412],[16.44,1.438],[15.95,1.410],[16.19,1.432],[15.63,1.394],[16.36,1.436],[15.87,1.406],
[16.89,1.434],[17.24,1.452],[16.61,1.424],[17.41,1.462],[16.77,1.430],[17.07,1.446],[16.54,1.416],[17.33,1.458],[16.97,1.440],[17.17,1.454],
[17.52,1.446],[17.68,1.458],[17.82,1.456],[17.98,1.472],[18.12,1.468],[18.28,1.482],[18.42,1.476],[17.58,1.440],
[19.31,1.500],[18.56,1.470],[19.09,1.494],[18.79,1.486],[19.44,1.508],[18.95,1.484],
[19.89,1.512],[20.24,1.524],[19.61,1.500],[20.41,1.530]];

// ---------------- rendering helpers ----------------
const FONT = '"Liberation Serif", "Times New Roman", serif';
const TXT = '#3c3c3c';
Chart.defaults.font.family = FONT;

const boxPlugin = {
  id: 'mbox',
  afterDraw(chart, args, opts) {
    const {ctx, chartArea: a, scales: {x, y}} = chart;
    ctx.save();
    ctx.strokeStyle = '#666';
    ctx.lineWidth = 1.2;
    ctx.strokeRect(a.left, a.top, a.right - a.left, a.bottom - a.top);
    ctx.beginPath();
    x.ticks.forEach(t => {
      const p = x.getPixelForValue(t.value);
      ctx.moveTo(p, a.bottom); ctx.lineTo(p, a.bottom - 5);
      ctx.moveTo(p, a.top); ctx.lineTo(p, a.top + 5);
    });
    y.ticks.forEach(t => {
      const p = y.getPixelForValue(t.value);
      ctx.moveTo(a.left, p); ctx.lineTo(a.left + 5, p);
      ctx.moveTo(a.right, p); ctx.lineTo(a.right - 5, p);
    });
    ctx.stroke();
    if (opts && opts.qerr) {
      ctx.translate(opts.qerr[0], opts.qerr[1]);
      ctx.rotate(-Math.PI / 2);
      ctx.fillStyle = TXT;
      ctx.textBaseline = 'alphabetic';
      ctx.font = 'italic 23px ' + FONT;
      const wQ = ctx.measureText('Q').width;
      ctx.font = 'italic 17px ' + FONT;
      const wE = ctx.measureText('err').width;
      const s = -(wQ + wE) / 2;
      ctx.font = 'italic 23px ' + FONT;
      ctx.fillText('Q', s, 4);
      ctx.font = 'italic 17px ' + FONT;
      ctx.fillText('err', s + wQ, 12);
    }
    ctx.restore();
  }
};

function boxData(lo, hi) {
  const out = [];
  lo.forEach((v, i) => { if (v !== null && hi[i] !== null) out.push({x: i, y: [v, hi[i]]}); });
  return out;
}
function ptData(arr) {
  const out = [];
  arr.forEach((v, i) => { if (v !== null) out.push({x: i, y: v}); });
  return out;
}
function pairData(arr) { return arr.map(p => ({x: p[0], y: p[1]})); }
function noPad(s) { s.paddingLeft = 0; s.paddingRight = 0; s.paddingTop = 0; s.paddingBottom = 0; }

function panel(id, o) {
  const lineOrder = o.boxOnTop ? 7 : 0;
  const datasets = [
    {type: 'scatter', data: pairData(o.dots), pointStyle: 'rect', pointRadius: 2.1, backgroundColor: '#000', borderWidth: 0, order: 10},
    {type: 'bar', data: boxData(o.lo, o.hi), backgroundColor: '#7474ff', barThickness: 2, grouped: false, borderWidth: 0, order: 6},
    {type: 'bar', data: boxData(o.q1, o.q3), backgroundColor: '#0000ff', barThickness: 6, grouped: false, borderWidth: 0, order: 5},
    {type: 'scatter', data: ptData(o.med), pointStyle: 'line', pointRadius: 5, borderColor: '#8a8aff', borderWidth: 1.5, order: 4},
    {type: 'scatter', data: pairData(o.out), pointStyle: 'cross', pointRadius: 4.5, borderColor: '#ff0000', borderWidth: 1, order: 1},
    {type: 'line', data: ptData(o.mean), showLine: true, borderColor: '#ff1a1a', borderWidth: 1.5, pointRadius: 4.5, pointBackgroundColor: '#ff1a1a', pointBorderWidth: 0, fill: false, tension: 0, order: lineOrder}
  ];
  return new Chart(document.getElementById(id), {
    type: 'scatter',
    data: {datasets},
    options: {
      responsive: false, animation: false, devicePixelRatio: 1,
      events: [],
      layout: {padding: {left: 0, top: o.padTop, right: o.padRight, bottom: 0}},
      plugins: {legend: {display: false}, tooltip: {enabled: false}, mbox: {qerr: o.qerr || null}},
      scales: {
        x: {
          type: 'linear', min: o.xMin, max: o.xMax, offset: false, bounds: 'data',
          grid: {display: false, drawTicks: false, offset: false}, border: {display: false},
          afterBuildTicks: s => { s.ticks = o.xTicks.map(v => ({value: v})); },
          afterFit: s => { s.height = o.xH; noPad(s); },
          ticks: {padding: 11, autoSkip: false, maxRotation: 0, minRotation: 0, color: TXT, font: {size: 19},
                  callback: v => o.xLabels[o.xTicks.indexOf(v)]},
          title: {display: true, text: o.xTitle, color: TXT, font: {size: 22}, padding: {top: 0, bottom: o.xTitlePad}}
        },
        y: {
          type: 'linear', min: o.yMin, max: o.yMax, offset: false, beginAtZero: false,
          grid: {display: false, drawTicks: false}, border: {display: false},
          afterBuildTicks: s => { s.ticks = o.yTicks.map(v => ({value: v})); },
          afterFit: s => { s.width = o.yW; noPad(s); },
          ticks: {padding: o.yPad, autoSkip: false, color: TXT, font: {size: 19},
                  callback: v => o.yLabels[o.yTicks.indexOf(v)]},
          title: {display: !!o.yTitle, text: o.yTitle || '', color: TXT, font: {size: 22}, padding: {top: o.yTitlePad || 0, bottom: 0}}
        }
      }
    },
    plugins: [boxPlugin]
  });
}

panel('ca', {dots: dotsA.concat(dotsAmore), lo: loA, hi: hiA, q1: q1A, q3: q3A, med: medA, mean: meanA, out: outA,
  xTicks: xTicksA, xLabels: xLabelsA, yTicks: yTicksA, yLabels: yLabelsA,
  xMin: -0.43, xMax: 24.45, yMin: 189.31, yMax: 216.56,
  padTop: 8, padRight: 38, xH: 67, yW: 75, yPad: 7, yTitlePad: 8.5, xTitlePad: 6.8,
  xTitle: 'Global Clustering', yTitle: 'Retrieval Capability'});

panel('cb', {dots: dotsB.concat(dotsBmore), lo: loB, hi: hiB, q1: q1B, q3: q3B, med: medB, mean: meanB, out: outB,
  xTicks: xTicksB, xLabels: xLabelsB, yTicks: yTicksB, yLabels: yLabelsB,
  xMin: -0.46, xMax: 25.45, yMin: 0.9718, yMax: 1.6316,
  padTop: 8.3, padRight: 37, xH: 68.3, yW: 88.7, yPad: 9, xTitlePad: 8.5,
  xTitle: 'Global Clustering', qerr: [33, 163]});

panel('cc', {dots: dotsC.concat(dotsCmore), lo: loC, hi: hiC, q1: q1C, q3: q3C, med: medC, mean: meanC, out: outC,
  xTicks: xTicksC, xLabels: xLabelsC, yTicks: yTicksC, yLabels: yLabelsC,
  xMin: -0.485, xMax: 24.43, yMin: 189.39, yMax: 215.0,
  padTop: 35, padRight: 33.3, xH: 68.3, yW: 73.3, yPad: 6.6, yTitlePad: 7.5, xTitlePad: 8.8,
  xTitle: 'Average Path Length', yTitle: 'Retrieval Capability'});

panel('cd', {dots: dotsD.concat(dotsDmore), lo: loD, hi: hiD, q1: q1D, q3: q3D, med: medD, mean: meanD, out: outD,
  xTicks: xTicksD, xLabels: xLabelsD, yTicks: yTicksD, yLabels: yLabelsD,
  xMin: -0.474, xMax: 23.48, yMin: 0.9572, yMax: 1.6077,
  padTop: 32.3, padRight: 37.7, xH: 68.3, yW: 87, yPad: 8.3, xTitlePad: 8.8,
  xTitle: 'Average Path Length', qerr: [32, 190], boxOnTop: true});
</script>
</body></html>
